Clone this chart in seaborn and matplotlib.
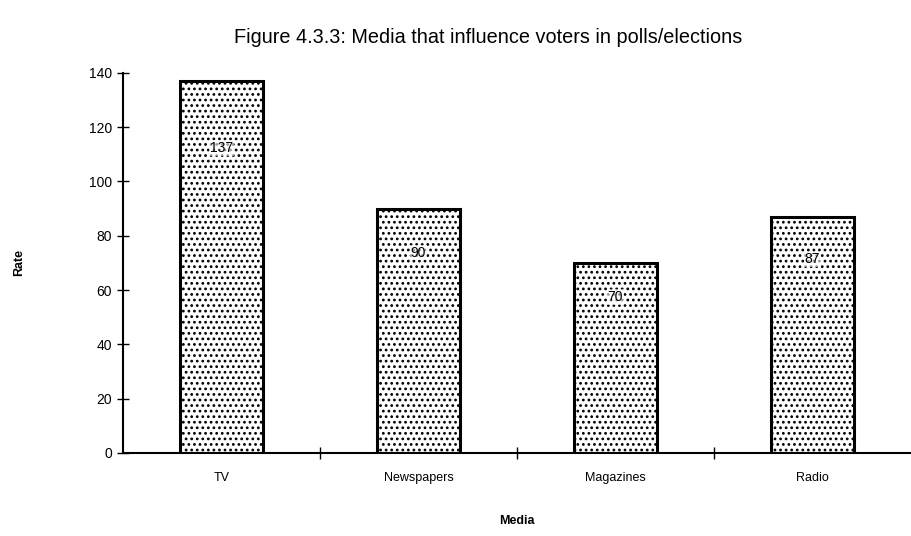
import matplotlib
matplotlib.use("Agg")
import matplotlib.pyplot as plt
import seaborn as sns
import pandas as pd
from matplotlib.ticker import FixedLocator

# Survey results
categories = ["TV", "Newspapers", "Magazines", "Radio"]
rates = [137, 90, 70, 87]
y_ticks = [0, 20, 40, 60, 80, 100, 120, 140]

sns.set_theme(style="white")
plt.rcParams["font.family"] = ["Liberation Sans", "DejaVu Sans"]
plt.rcParams["hatch.linewidth"] = 1.2
plt.rcParams["hatch.color"] = "black"
plt.rcParams["text.color"] = "black"
plt.rcParams["axes.labelcolor"] = "black"
plt.rcParams["xtick.color"] = "black"
plt.rcParams["ytick.color"] = "black"

df = pd.DataFrame({"Media": categories, "Rate": rates})

fig = plt.figure(figsize=(9.11, 5.36), dpi=100)
ax = fig.add_axes([0.135, 0.155, 0.865, 0.709])

sns.barplot(data=df, x="Media", y="Rate", color="white", edgecolor="black",
            linewidth=2.2, width=0.42, hatch="...", ax=ax, saturation=1)

# value labels sit inside each bar
for i, v in enumerate(rates):
    ax.text(i, v * 0.82, str(v), ha="center", va="center", fontsize=10,
            color="black",
            bbox=dict(boxstyle="square,pad=0.05", fc="white", ec="none", alpha=0.6))

ax.set_xlim(-0.5, 3.5)
ax.set_ylim(0, 140)
ax.set_yticks(y_ticks)
ax.tick_params(axis="y", which="major", direction="inout", length=8, width=1,
               labelsize=10, pad=4, left=True)
ax.tick_params(axis="x", which="major", length=0, labelsize=9, pad=14)
ax.xaxis.set_minor_locator(FixedLocator([0.5, 1.5, 2.5]))
ax.tick_params(axis="x", which="minor", direction="inout", length=8, width=1,
               bottom=True)

for side in ["top", "right"]:
    ax.spines[side].set_visible(False)
for side in ["left", "bottom"]:
    ax.spines[side].set_color("black")
    ax.spines[side].set_linewidth(1.5)

ax.set_xlabel("Media", fontsize=9, fontweight="bold", labelpad=22)
ax.set_ylabel("Rate", fontsize=9, fontweight="bold", labelpad=46)
fig.suptitle("Figure 4.3.3: Media that influence voters in polls/elections",
             fontsize=14.3, x=0.536, y=0.948)

fig.savefig("out.png", dpi=100, facecolor="white")
